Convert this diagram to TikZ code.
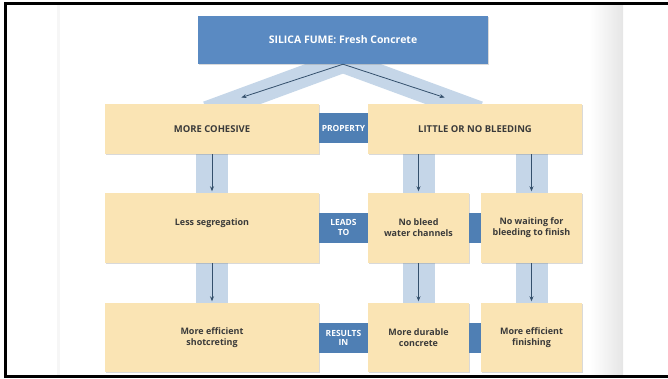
\documentclass[tikz,border=0pt]{standalone}
\usepackage{fontspec}
\setmainfont{Open Sans}
\usetikzlibrary{shadows,backgrounds,arrows.meta}
\definecolor{jaune}{HTML}{FAE4B4}
\definecolor{bleu}{HTML}{4F7FB4}
\definecolor{bleutitre}{HTML}{5A8AC2}
\definecolor{bleuclair}{HTML}{C5D6E8}
\definecolor{encre}{HTML}{3A3A3A}
\definecolor{trait}{HTML}{34506C}

\begin{document}
\begin{tikzpicture}[x=1bp,y=-1bp]
\tikzstyle{boite}=[fill=jaune,minimum width=214bp,minimum height=50bp,inner sep=0pt,text=encre,align=center,font=\bfseries\fontsize{9}{11}\selectfont,drop shadow={shadow xshift=1.2bp,shadow yshift=-1.2bp,opacity=.3}]
\tikzstyle{petite}=[boite,minimum width=101bp,minimum height=70bp]
\tikzstyle{majuscule}=[font=\bfseries\fontsize{9.5}{11}\selectfont]
\tikzstyle{titre}=[boite,fill=bleutitre,text=white,minimum width=290bp,minimum height=48bp,font=\bfseries\fontsize{10.5}{12}\selectfont]
\tikzstyle{lien}=[fill=bleu,text=white,minimum width=49bp,minimum height=30bp,inner sep=0pt,align=center,font=\bfseries\fontsize{8.5}{9.5}\selectfont]
\tikzstyle{bande}=[draw=bleuclair]
\tikzstyle{fleche}=[draw=trait,line width=.8bp,shorten >=1.5bp,-{Stealth[length=5bp,width=4bp]}]

\useasboundingbox (0,0) rectangle (668,378);
\fill[gray!7] (57,5) rectangle (60,375);
\shade[left color=white,right color=gray!20] (590,5) rectangle (623,375);
\draw[line width=2.5bp] (668,3.5) -- (5.5,3.5) -- (5.5,376.5) -- (668,376.5);

\node[titre] (sf) at (343,40) {SILICA FUME: Fresh Concrete};

\node[boite,majuscule] (mc) at (212,129) {MORE COHESIVE};
\node[boite,majuscule] (lb) at (475,129) {LITTLE OR NO BLEEDING};
\node[lien] (pr) at (343.5,128) {PROPERTY};

\node[boite,minimum height=70bp,label={[text=encre,font=\bfseries\fontsize{9}{11}\selectfont,yshift=5bp]center:Less segregation}] (ls) at (212,228) {};
\node[petite] (nb) at (418.5,228) {No bleed\\water channels};
\node[petite] (nw) at (531.5,228) {No waiting for\\bleeding to finish};
\node[lien] (lt) at (343.5,227.5) {LEADS\\TO};
\node[lien,minimum width=12bp] (l2) at (475,227.5) {};

\node[boite,minimum height=69bp] (es) at (212,337.5) {More efficient\\shotcreting};
\node[petite,minimum height=69bp] (md) at (418.5,337.5) {More durable\\concrete};
\node[petite,minimum height=69bp] (ef) at (531.5,337.5) {More efficient\\finishing};
\node[lien] (ri) at (343.5,338) {RESULTS\\IN};
\node[lien,minimum width=12bp] (l3) at (475,338) {};

\coordinate (pg) at (240,98);
\coordinate (pd) at (446,98);

\begin{pgfonlayer}{background}
\draw[bande,line width=22bp] (359,56) -- (207,112);
\draw[bande,line width=22bp] (327,56) -- (479,112);
\draw[bande,line width=32bp] (mc.south) -- (ls.north);
\draw[bande,line width=32bp] (lb.south -| nb.north) -- (nb.north);
\draw[bande,line width=32bp] (lb.south -| nw.north) -- (nw.north);
\draw[bande,line width=32bp] (ls.south) -- (es.north);
\draw[bande,line width=32bp] (nb.south) -- (md.north);
\draw[bande,line width=32bp] (nw.south) -- (ef.north);
\end{pgfonlayer}

\draw[fleche] (sf.south) -- (pg);
\draw[fleche] (sf.south) -- (pd);
\draw[fleche] (mc.south) -- (ls.north);
\draw[fleche] (lb.south -| nb.north) -- (nb.north);
\draw[fleche] (lb.south -| nw.north) -- (nw.north);
\draw[fleche] (ls.south) -- (es.north);
\draw[fleche] (nb.south) -- (md.north);
\draw[fleche] (nw.south) -- (ef.north);

\end{tikzpicture}
\end{document}
